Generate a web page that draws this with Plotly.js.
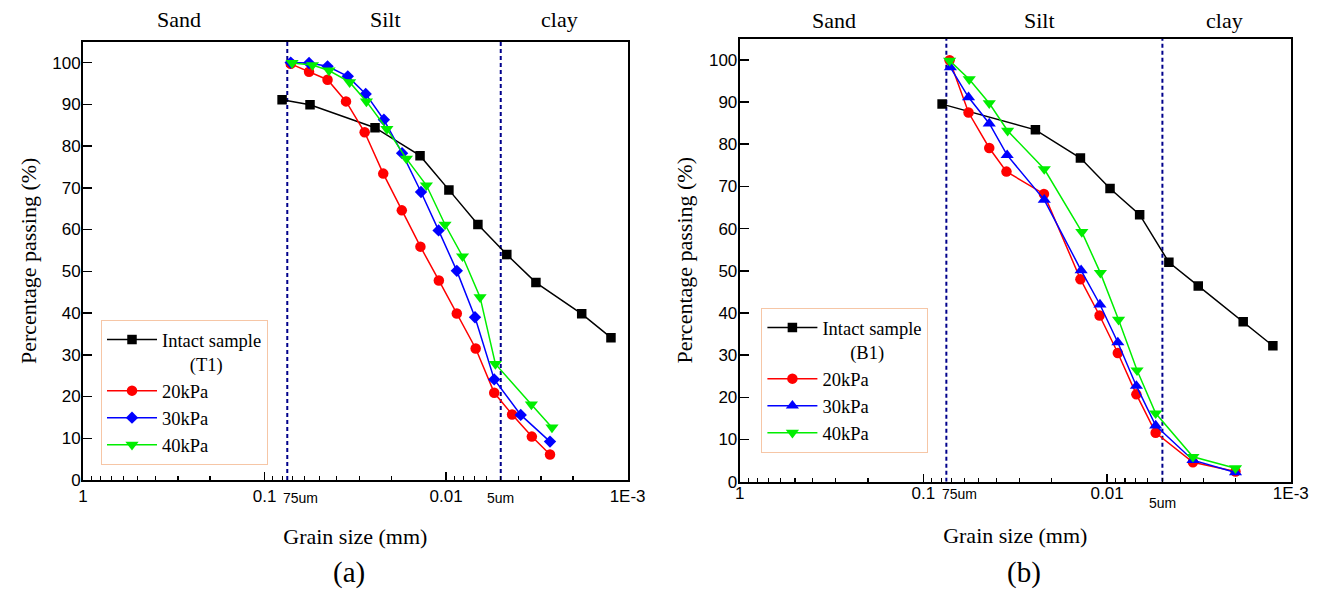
<!DOCTYPE html>
<html>
<head>
<meta charset="utf-8">
<script src="https://cdn.plot.ly/plotly-3.0.1.min.js"></script>
<style>
html,body{margin:0;padding:0;background:#ffffff;}
#chart{width:1327px;height:599px;}
</style>
</head>
<body>
<div id="chart"></div>
<script>
// ---------- Panel (a): T1 ----------
const sizeIntactA = [0.0801, 0.0562, 0.02464, 0.01392, 0.00965, 0.00668, 0.00463, 0.0032, 0.00179, 0.001235];
const passIntactA = [91.1, 89.9, 84.4, 77.7, 69.5, 61.2, 54.0, 47.3, 39.8, 34.1];
const size20A = [0.0718, 0.0569, 0.045, 0.0356, 0.0281, 0.0222, 0.01754, 0.01385, 0.01096, 0.00873, 0.00687, 0.00543, 0.00433, 0.00337, 0.002676];
const pass20A = [99.7, 97.8, 95.9, 90.7, 83.3, 73.4, 64.6, 55.9, 47.8, 39.9, 31.5, 20.9, 15.7, 10.4, 6.1];
const size30A = [0.0718, 0.0569, 0.045, 0.0348, 0.02773, 0.02202, 0.01748, 0.01375, 0.011, 0.00873, 0.00693, 0.00543, 0.00388, 0.002676];
const pass30A = [100.0, 99.9, 99.1, 96.7, 92.5, 86.3, 78.3, 69.0, 59.8, 50.1, 39.0, 24.1, 15.6, 9.2];
const size40A = [0.0706, 0.0545, 0.0442, 0.034, 0.02748, 0.0212, 0.01655, 0.01284, 0.01014, 0.00812, 0.0065, 0.00535, 0.00339, 0.00261];
const pass40A = [99.9, 99.4, 98.1, 95.3, 90.7, 84.1, 77.0, 70.6, 61.2, 53.6, 43.8, 27.8, 18.1, 12.6];

// ---------- Panel (b): B1 ----------
const sizeIntactB = [0.0791, 0.02456, 0.01397, 0.00964, 0.00665, 0.00461, 0.00319, 0.001816, 0.001252];
const passIntactB = [89.5, 83.4, 76.7, 69.5, 63.3, 52.0, 46.4, 37.9, 32.2];
const size20B = [0.072, 0.0568, 0.0438, 0.0353, 0.02207, 0.01397, 0.01099, 0.00874, 0.00693, 0.00544, 0.00341, 0.002];
const pass20B = [99.9, 87.5, 79.1, 73.5, 68.2, 48.0, 39.4, 30.5, 20.7, 11.6, 4.6, 2.4];
const size30B = [0.0713, 0.0568, 0.0438, 0.035, 0.02198, 0.01385, 0.01094, 0.00874, 0.00693, 0.00544, 0.00341, 0.002];
const pass30B = [98.2, 91.1, 84.9, 77.4, 66.8, 50.1, 42.0, 33.0, 22.7, 13.3, 5.1, 2.2];
const size40B = [0.072, 0.0563, 0.0438, 0.0348, 0.02198, 0.01373, 0.01088, 0.00866, 0.00687, 0.00544, 0.00341, 0.002];
const pass40B = [99.8, 95.4, 89.7, 83.2, 74.1, 59.2, 49.5, 38.4, 26.4, 16.2, 5.9, 3.2];

// ---------- Boundaries, labels ----------
const boundarySizes = [0.075, 0.005];
const boundaryLabels = ['75um', '5um'];
const zoneLabels = ['Sand', 'Silt', 'clay'];
const xTickVals = [1, 0.1, 0.01, 0.001];
const xTickText = ['1', '0.1', '0.01', '1E-3'];
const seriesNames = ['Intact sample', '20kPa', '30kPa', '40kPa'];
const sampleIds = ['T1', 'B1'];

const SERIF = 'Liberation Serif';
const SANS = 'Liberation Sans';
const NB = '\u00A0';

// minor tick positions 2..9 per decade
const minorVals = [];
for (let e = 0; e >= -3; e--) {
  for (let k = 2; k <= 9; k++) {
    const v = k * Math.pow(10, e - 1);
    if (v <= 1 && v >= 0.001) minorVals.push(v);
  }
}

const styles = [
  {color: '#000000', symbol: 'square', size: 9.5},
  {color: '#ff0000', symbol: 'circle', size: 10.5},
  {color: '#0000ff', symbol: 'diamond', size: 9.5},
  {color: '#00ee00', symbol: 'triangle-down', size: 11.5}
];
const stylesB = [
  {color: '#000000', symbol: 'square', size: 9.5},
  {color: '#ff0000', symbol: 'circle', size: 10.5},
  {color: '#0000ff', symbol: 'triangle-up', size: 11.5},
  {color: '#00ee00', symbol: 'triangle-down', size: 11.5}
];

function boundaryTraces(xa, ya) {
  return boundarySizes.map(b => ({
    x: [b, b], y: [0, 105], xaxis: xa, yaxis: ya,
    mode: 'lines', showlegend: false, hoverinfo: 'skip',
    line: {color: '#00008B', width: 2, dash: '4px,3px'}
  }));
}

function seriesTraces(sizes, passes, st, xa, ya, legendId, sampleId) {
  return sizes.map((s, i) => ({
    x: s, y: passes[i], xaxis: xa, yaxis: ya, legend: legendId,
    mode: 'lines+markers',
    name: i === 0 ? (seriesNames[0] + '<br>' + NB.repeat(6) + '(' + sampleId + ')') : seriesNames[i],
    line: {color: st[i].color, width: 1.5},
    marker: {color: st[i].color, symbol: st[i].symbol, size: st[i].size}
  }));
}

const data = [].concat(
  boundaryTraces('x', 'y'),
  boundaryTraces('x2', 'y2'),
  seriesTraces([sizeIntactA, size20A, size30A, size40A], [passIntactA, pass20A, pass30A, pass40A], styles, 'x', 'y', 'legend', sampleIds[0]),
  seriesTraces([sizeIntactB, size20B, size30B, size40B], [passIntactB, pass20B, pass30B, pass40B], stylesB, 'x2', 'y2', 'legend2', sampleIds[1])
);

function xAxis(domain, anchor, titlePrefix, standoff, titleStandoff) {
  return {
    type: 'log', range: [0, -3], domain: domain, anchor: anchor,
    showline: true, linecolor: '#000', linewidth: 2, mirror: true,
    showgrid: false, zeroline: false,
    ticks: 'inside', ticklen: 8, tickwidth: 1.5, tickcolor: '#000',
    tickmode: 'array', tickvals: xTickVals, ticktext: xTickText,
    tickfont: {family: SANS, size: 17, color: '#000'},
    ticklabelstandoff: standoff,
    minor: {tickmode: 'array', tickvals: minorVals, ticks: 'inside', ticklen: 4, tickwidth: 1.2, tickcolor: '#000', showgrid: false},
    title: {text: titlePrefix + 'Grain size (mm)', font: {family: SERIF, size: 22, color: '#000'}, standoff: titleStandoff}
  };
}
function yAxis(domain, anchor) {
  return {
    range: [0, 105], domain: domain, anchor: anchor,
    showline: true, linecolor: '#000', linewidth: 2, mirror: true,
    showgrid: false, zeroline: false,
    ticks: 'inside', ticklen: 9, tickwidth: 1.5, tickcolor: '#000',
    tick0: 0, dtick: 10,
    tickfont: {family: SANS, size: 17, color: '#000'},
    ticklabelstandoff: -3,
    title: {text: NB.repeat(5) + 'Percentage passing (%)', font: {family: SERIF, size: 22, color: '#000'}, standoff: 10}
  };
}

const W = 1327, H = 599;
const px = v => v / W;
const py = v => 1 - v / H;

const zoneXA = [179, 385, 559];
const zoneXB = [834, 1039, 1224];
const annotations = [];
zoneLabels.forEach((t, i) => {
  annotations.push({text: t, xref: 'paper', yref: 'paper', x: px(zoneXA[i]), y: py(20), xanchor: 'center', yanchor: 'middle', showarrow: false, font: {family: SERIF, size: 22, color: '#000'}});
  annotations.push({text: t, xref: 'paper', yref: 'paper', x: px(zoneXB[i]), y: py(21), xanchor: 'center', yanchor: 'middle', showarrow: false, font: {family: SERIF, size: 22, color: '#000'}});
});
// boundary labels
[['x', 498, 498], ['x2', 494, 503]].forEach(([xr, y75, y5]) => {
  annotations.push({text: boundaryLabels[0], xref: xr, yref: 'paper', x: Math.log10(boundarySizes[0]), y: py(y75), xanchor: 'left', xshift: -6, yanchor: 'middle', showarrow: false, font: {family: SANS, size: 14, color: '#000'}});
  annotations.push({text: boundaryLabels[1], xref: xr, yref: 'paper', x: Math.log10(boundarySizes[1]), y: py(y5), xanchor: 'center', yanchor: 'middle', showarrow: false, font: {family: SANS, size: 14, color: '#000'}});
});
annotations.push({text: '(a)', xref: 'paper', yref: 'paper', x: px(349), y: py(572), xanchor: 'center', yanchor: 'middle', showarrow: false, font: {family: SERIF, size: 29, color: '#000'}});
annotations.push({text: '(b)', xref: 'paper', yref: 'paper', x: px(1024), y: py(572), xanchor: 'center', yanchor: 'middle', showarrow: false, font: {family: SERIF, size: 29, color: '#000'}});

function legendCfg(x, y) {
  return {
    x: x, y: y, xanchor: 'left', yanchor: 'top', bgcolor: '#ffffff', bordercolor: '#F6C6A6', borderwidth: 1,
    font: {family: SERIF, size: 18.5, color: '#000000'}, itemwidth: 50, valign: 'top', tracegroupgap: 0
  };
}

const layout = {
  width: W, height: H, autosize: false,
  margin: {l: 0, r: 0, t: 0, b: 0, pad: 0},
  font: {family: SERIF, color: '#000'},
  paper_bgcolor: '#ffffff', plot_bgcolor: '#ffffff',
  showlegend: true,
  xaxis: xAxis([px(83.1), px(627.6)], 'y', NB + NB, 0, 23),
  yaxis: yAxis([py(480), py(41.7)], 'x'),
  xaxis2: xAxis([px(739.7), px(1290.8)], 'y2', '', -5, 26),
  yaxis2: yAxis([py(481.7), py(38.7)], 'x2'),
  legend: legendCfg(px(101), py(320)),
  legend2: legendCfg(px(761.4), py(308)),
  annotations: annotations
};

Plotly.newPlot('chart', data, layout, {displayModeBar: false, staticPlot: true});
</script>
</body>
</html>
